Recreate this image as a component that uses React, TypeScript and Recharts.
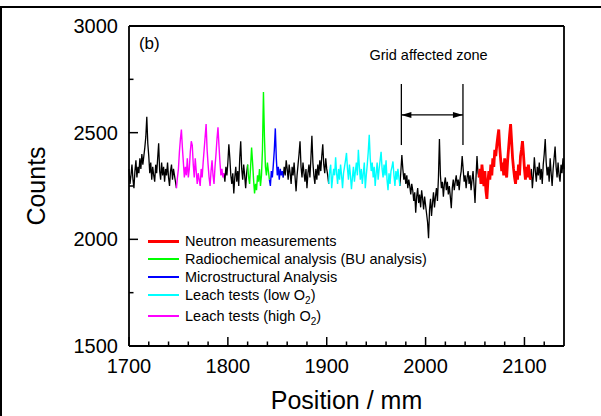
import { LineChart, Line, XAxis, YAxis, ReferenceLine, ReferenceDot, Legend, Label } from 'recharts';

const FONT = '"Liberation Sans", Arial, Helvetica, sans-serif';

// sampling of the scan, mm
const START_POS = 1700;
const STEP = 1;

// counts per segment (1 mm apart)
const black1 = [2330, 2260, 2300, 2350, 2280, 2240, 2320, 2370, 2290, 2340, 2310, 2380, 2330, 2400, 2350, 2390, 2430, 2480, 2575, 2450, 2390, 2310, 2360, 2280, 2340, 2300, 2270, 2350, 2310, 2380, 2450, 2320, 2280, 2360, 2300, 2340, 2270, 2330, 2300, 2360, 2290, 2250, 2320, 2350, 2280, 2330, 2300, 2270];
const highO2 = [2240, 2290, 2330, 2410, 2470, 2515, 2430, 2360, 2290, 2340, 2300, 2380, 2290, 2330, 2410, 2460, 2440, 2350, 2290, 2380, 2320, 2260, 2310, 2280, 2250, 2330, 2290, 2360, 2420, 2480, 2540, 2420, 2350, 2290, 2250, 2320, 2370, 2300, 2260, 2340, 2400, 2470, 2525, 2440, 2360, 2300, 2330, 2290];
const black2 = [2310, 2270, 2340, 2300, 2360, 2445, 2380, 2300, 2260, 2310, 2215, 2290, 2340, 2270, 2320, 2250, 2380, 2460, 2330, 2280, 2350, 2300, 2240, 2310];
const radiochem = [2350, 2290, 2260, 2340, 2430, 2360, 2280, 2215, 2260, 2230, 2300, 2270, 2330, 2250, 2300, 2420, 2690, 2480, 2340, 2300, 2360, 2320];
const micro = [2280, 2250, 2320, 2290, 2350, 2420, 2520, 2380, 2300, 2340, 2280, 2330, 2300, 2320];
const black3 = [2290, 2340, 2300, 2370, 2330, 2280, 2350, 2310, 2260, 2340, 2300, 2360, 2290, 2225, 2300, 2350, 2400, 2460, 2340, 2290, 2360, 2310, 2270, 2330, 2240, 2310, 2350, 2290, 2380, 2485, 2360, 2300, 2260, 2330, 2280, 2350, 2300, 2370, 2320, 2390, 2445, 2350, 2310, 2380, 2330, 2300];
const lowO2 = [2260, 2320, 2350, 2240, 2290, 2330, 2300, 2385, 2310, 2260, 2330, 2280, 2350, 2300, 2240, 2310, 2340, 2370, 2405, 2330, 2280, 2350, 2300, 2235, 2290, 2340, 2270, 2320, 2360, 2300, 2420, 2340, 2280, 2330, 2260, 2310, 2360, 2240, 2300, 2350, 2410, 2490, 2380, 2320, 2360, 2290, 2340, 2250, 2310, 2360, 2280, 2330, 2370, 2410, 2330, 2290, 2350, 2300, 2370, 2280, 2230, 2310, 2260, 2320, 2340, 2365, 2300, 2250, 2320, 2280, 2330, 2290];
const black4 = [2250, 2320, 2395, 2330, 2280, 2310, 2260, 2300, 2240, 2280, 2250, 2210, 2260, 2230, 2180, 2220, 2125, 2200, 2240, 2170, 2210, 2150, 2230, 2190, 2140, 2200, 2160, 2120, 2080, 2005, 2140, 2190, 2110, 2170, 2220, 2150, 2200, 2240, 2180, 2290, 2470, 2300, 2240, 2270, 2200, 2260, 2290, 2230, 2270, 2210, 2250, 2200, 2146, 2240, 2280, 2230, 2270, 2300, 2250, 2280, 2230, 2290, 2320, 2390, 2330, 2270, 2300, 2240, 2290, 2320, 2260, 2300, 2230, 2280, 2320, 2250, 2170, 2290, 2390, 2310];
const neutron = [2290, 2330, 2260, 2350, 2300, 2250, 2320, 2230, 2190, 2270, 2320, 2280, 2350, 2300, 2380, 2340, 2420, 2390, 2440, 2480, 2515, 2430, 2370, 2320, 2360, 2300, 2380, 2330, 2290, 2370, 2430, 2490, 2540, 2460, 2380, 2330, 2290, 2260, 2320, 2280, 2350, 2300, 2390, 2420, 2460, 2400, 2330, 2280, 2340, 2290, 2350, 2310];
const black5 = [2280, 2330, 2240, 2300, 2385, 2320, 2270, 2340, 2300, 2360, 2280, 2330, 2260, 2350, 2400, 2470, 2360, 2300, 2340, 2270, 2380, 2310, 2250, 2330, 2380, 2435, 2340, 2290, 2360, 2300, 2270, 2350, 2310, 2380, 2330];

const segments = [
  { key: 'scan', values: black1 },
  { key: 'highO2', values: highO2 },
  { key: 'scan', values: black2 },
  { key: 'radiochem', values: radiochem },
  { key: 'micro', values: micro },
  { key: 'scan', values: black3 },
  { key: 'lowO2', values: lowO2 },
  { key: 'scan', values: black4 },
  { key: 'neutron', values: neutron },
  { key: 'scan', values: black5 },
];

const xTicks = [1700, 1720, 1740, 1760, 1780, 1800, 1820, 1840, 1860, 1880, 1900, 1920, 1940, 1960, 1980, 2000, 2020, 2040, 2060, 2080, 2100, 2120];
const yTicks = [1500, 1750, 2000, 2250, 2500, 2750, 3000];

// grid affected zone marker
const gridZone = [1975.5, 2037.8];
const gridLineSpan = [2442, 2728];
const gridArrowY = 2583;

const legendItems = [
  { label: 'Neutron measurements', sub: '', tail: '', color: '#ff0000', width: 3 },
  { label: 'Radiochemical analysis (BU analysis)', sub: '', tail: '', color: '#00ff00', width: 1.5 },
  { label: 'Microstructural Analysis', sub: '', tail: '', color: '#0000ff', width: 1.5 },
  { label: 'Leach tests (low O', sub: '2', tail: ')', color: '#00ffff', width: 1.5 },
  { label: 'Leach tests (high O', sub: '2', tail: ')', color: '#ff00ff', width: 1.5 },
];

type Row = { pos: number; [k: string]: number };

const flat: { pos: number; seg: number; v: number }[] = [];
segments.forEach((seg, si) => {
  seg.values.forEach((v) => {
    flat.push({ pos: START_POS + flat.length * STEP, seg: si, v });
  });
});

const data: Row[] = flat.map((r, i) => {
  const row: Row = { pos: r.pos };
  row[segments[r.seg].key] = r.v;
  // join each segment to the next one
  if (i > 0 && flat[i - 1].seg !== r.seg) row[segments[flat[i - 1].seg].key] = r.v;
  return row;
});

function XTick({ x, y, payload }: any) {
  const v = payload.value;
  const major = v % 100 === 0;
  return (
    <g>
      <line x1={x} x2={x} y1={y} y2={y - (major ? 9 : 4.5)} stroke="#000" strokeWidth={1.5} />
      {major && (
        <text x={x} y={y + 27} textAnchor="middle" fontSize={20} fontFamily={FONT} fill="#000">
          {v}
        </text>
      )}
    </g>
  );
}

function YTick({ x, y, payload }: any) {
  const v = payload.value;
  const major = v % 500 === 0;
  return (
    <g>
      <line x1={x} x2={x + (major ? 9 : 4.5)} y1={y} y2={y} stroke="#000" strokeWidth={1.5} />
      {major && (
        <text x={x - 11} y={y + 7} textAnchor="end" fontSize={20} fontFamily={FONT} fill="#000">
          {v}
        </text>
      )}
    </g>
  );
}

function LegendBox() {
  return (
    <div style={{ fontFamily: FONT, fontSize: 14.5, color: '#000', lineHeight: '18px' }}>
      {legendItems.map((item, i) => (
        <div key={item.label} style={{ display: 'flex', alignItems: 'center', height: 18, marginTop: i === 4 ? 3 : 0 }}>
          <div style={{ width: 31, height: item.width, background: item.color, marginRight: 6 }} />
          <span style={{ whiteSpace: 'nowrap' }}>
            {item.label}
            {item.sub && <sub style={{ fontSize: 10, lineHeight: 0 }}>{item.sub}</sub>}
            {item.tail}
          </span>
        </div>
      ))}
    </div>
  );
}

export default function App() {
  return (
    <div style={{ position: 'absolute', left: 0, top: 0, width: 601, height: 416, background: '#fff', overflow: 'hidden' }}>
      <div style={{ position: 'absolute', left: 0, top: 6, width: 601, height: 2, background: '#000' }} />
      <div style={{ position: 'absolute', left: 0, top: 6, width: 2, height: 410, background: '#000' }} />
      <LineChart width={601} height={416} data={data} margin={{ top: 26, right: 37, bottom: 0, left: 0 }}>
        <XAxis
          dataKey="pos"
          type="number"
          domain={[1700, 2140]}
          ticks={xTicks}
          interval={0}
          height={70}
          tickSize={0}
          tickMargin={0}
          tickLine={false}
          tick={<XTick />}
          axisLine={{ stroke: '#000', strokeWidth: 1.8 }}
        >
          <Label value="Position / mm" position="insideBottom" offset={7} fontSize={25} fontFamily={FONT} fill="#000" />
        </XAxis>
        <YAxis
          type="number"
          domain={[1500, 3000]}
          ticks={yTicks}
          interval={0}
          width={129}
          tickSize={0}
          tickMargin={0}
          tickLine={false}
          tick={<YTick />}
          axisLine={{ stroke: '#000', strokeWidth: 1.8 }}
        >
          <Label
            value="Counts"
            angle={-90}
            position="insideLeft"
            offset={36.5}
            fontSize={25}
            fontFamily={FONT}
            fill="#000"
            style={{ textAnchor: 'middle' }}
          />
        </YAxis>
        <ReferenceLine y={3000} stroke="#000" strokeWidth={1.8} />
        <ReferenceLine x={2140} stroke="#000" strokeWidth={1.8} />

        <Line dataKey="scan" stroke="#000" strokeWidth={1.3} dot={false} activeDot={false} isAnimationActive={false} />
        <Line dataKey="highO2" stroke="#ff00ff" strokeWidth={1.4} dot={false} activeDot={false} isAnimationActive={false} />
        <Line dataKey="radiochem" stroke="#00ff00" strokeWidth={1.4} dot={false} activeDot={false} isAnimationActive={false} />
        <Line dataKey="micro" stroke="#0000ff" strokeWidth={1.4} dot={false} activeDot={false} isAnimationActive={false} />
        <Line dataKey="lowO2" stroke="#00ffff" strokeWidth={1.4} dot={false} activeDot={false} isAnimationActive={false} />
        <Line dataKey="neutron" stroke="#ff0000" strokeWidth={2.8} dot={false} activeDot={false} isAnimationActive={false} />

        <ReferenceLine segment={[{ x: gridZone[0], y: gridLineSpan[0] }, { x: gridZone[0], y: gridLineSpan[1] }]} stroke="#000" strokeWidth={1.3} />
        <ReferenceLine segment={[{ x: gridZone[1], y: gridLineSpan[0] }, { x: gridZone[1], y: gridLineSpan[1] }]} stroke="#000" strokeWidth={1.3} />
        <ReferenceLine segment={[{ x: gridZone[0], y: gridArrowY }, { x: gridZone[1], y: gridArrowY }]} stroke="#000" strokeWidth={1.2} />
        <ReferenceDot
          x={gridZone[0]}
          y={gridArrowY}
          shape={({ cx, cy }: any) => <polygon points={`${cx},${cy} ${cx + 10},${cy - 3} ${cx + 10},${cy + 3}`} fill="#000" />}
        />
        <ReferenceDot
          x={gridZone[1]}
          y={gridArrowY}
          shape={({ cx, cy }: any) => <polygon points={`${cx},${cy} ${cx - 10},${cy - 3} ${cx - 10},${cy + 3}`} fill="#000" />}
        />
        <ReferenceDot
          x={2003}
          y={2841}
          shape={({ cx, cy }: any) => (
            <text x={cx} y={cy} textAnchor="middle" fontSize={14.5} fontFamily={FONT} fill="#000">
              Grid affected zone
            </text>
          )}
        />
        <ReferenceDot
          x={1710}
          y={2892}
          shape={({ cx, cy }: any) => (
            <text x={cx} y={cy} textAnchor="start" fontSize={17} fontFamily={FONT} fill="#000">
              (b)
            </text>
          )}
        />

        <Legend
          layout="vertical"
          align="center"
          verticalAlign="middle"
          content={<LegendBox />}
          wrapperStyle={{ position: 'absolute', left: 148, top: 232, width: 'auto' }}
        />
      </LineChart>
    </div>
  );
}
